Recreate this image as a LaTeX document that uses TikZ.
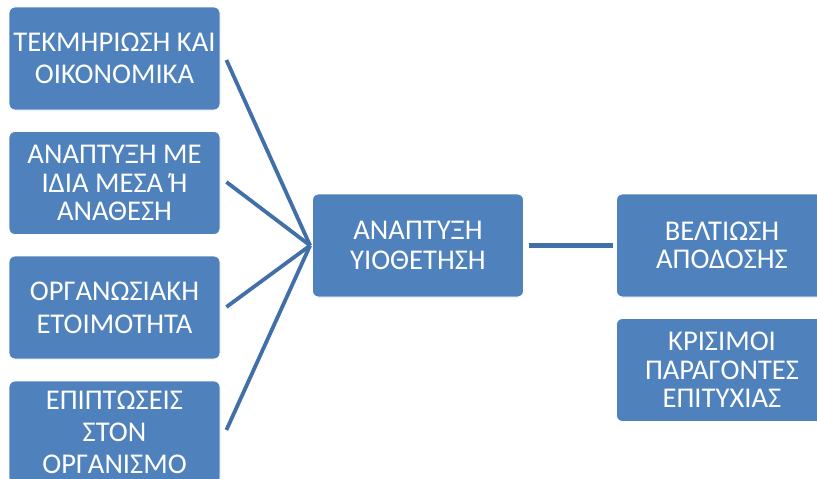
\documentclass[tikz,border=0pt]{standalone}
\usepackage{fontspec}
\setmainfont{Carlito}
\usetikzlibrary{calc}
\definecolor{boxblue}{HTML}{4F81BD}
\definecolor{linkblue}{HTML}{416FA8}
\begin{document}
\begin{tikzpicture}[x=1pt,y=-1pt,
  box/.style={rounded corners=6pt, fill=boxblue, draw=white, line width=0.8pt,
    minimum width=211pt, minimum height=103pt, text=white, align=center,
    inner sep=2pt, font=\fontsize{28.6}{#1}\selectfont},
  box/.default=28.5,
  link/.style={draw=linkblue, line width=3.8pt},
  hlink/.style={draw=linkblue, line width=5pt}]
\clip (0,0) rectangle (817,479);
\fill[white] (0,0) rectangle (817,479);

% left column of inputs
\node[box=32] (b1) at (114.5,58.5) {ΤΕΚΜΗΡΙΩΣΗ ΚΑΙ\\ΟΙΚΟΝΟΜΙΚΑ};
\node[box] (b2) at (114.5,183) {ΑΝΑΠΤΥΞΗ ΜΕ\\ΙΔΙΑ ΜΕΣΑ Ή\\ΑΝΑΘΕΣΗ};
\node[box=33] (b3) at (114.5,307.5) {ΟΡΓΑΝΩΣΙΑΚΗ\\ΕΤΟΙΜΟΤΗΤΑ};
\node[box=31.7] (b4) at (114.5,432.5) {ΕΠΙΠΤΩΣΕΙΣ\\ΣΤΟΝ\\ΟΡΓΑΝΙΣΜΟ};

% central step
\node[box=30.5] (c) at (418,245.5) {ΑΝΑΠΤΥΞΗ\\ΥΙΟΘΕΤΗΣΗ};

% right column of outcomes
\node[box] (r1) at (722,245.5) {ΒΕΛΤΙΩΣΗ\\ΑΠΟΔΟΣΗΣ};
\node[box] (r2) at (722,370) {ΚΡΙΣΙΜΟΙ\\ΠΑΡΑΓΟΝΤΕΣ\\ΕΠΙΤΥΧΙΑΣ};

% connectors
\coordinate (hub) at ($(c.west)+(-2,0)$);
\foreach \n/\dy in {b1/1.5,b2/-1,b3/-0.5,b4/-2.5}
  \draw[link] ($(\n.east)+(6,\dy)$) -- (hub);
\draw[hlink] ($(c.east)+(5,0)$) -- ($(r1.west)+(-3,0)$);
\end{tikzpicture}
\end{document}
